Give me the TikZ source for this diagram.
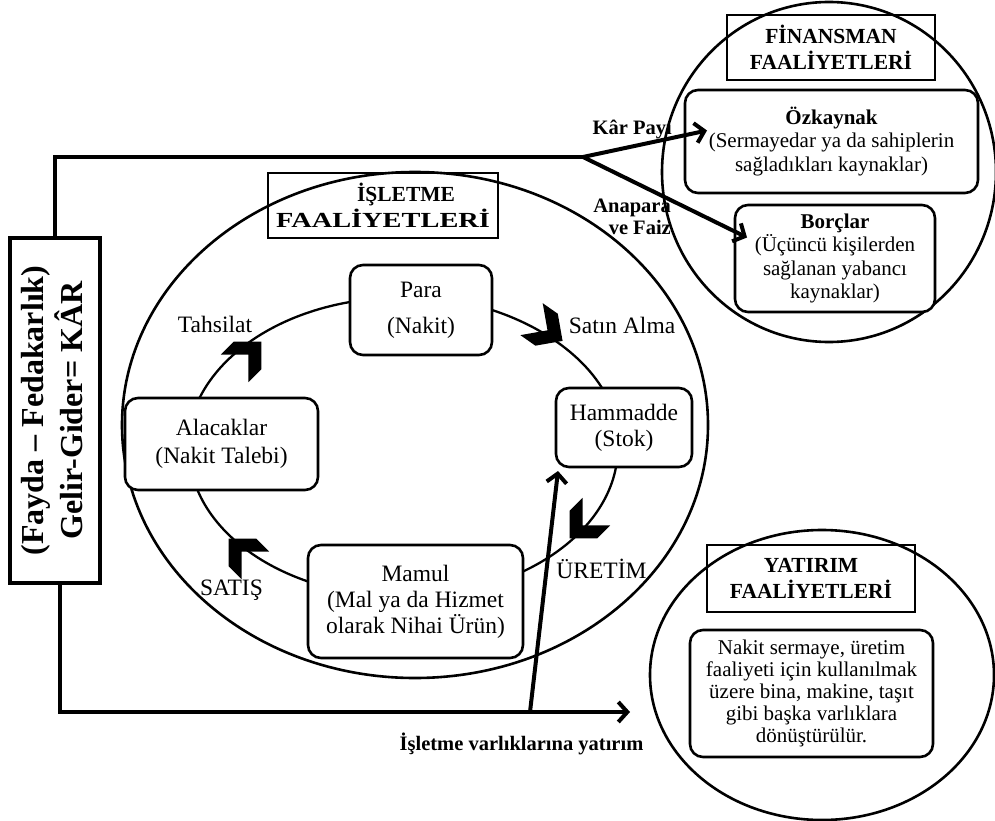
\documentclass[tikz,border=0pt]{standalone}
\usepackage{fontspec}
\setmainfont{Liberation Serif}
\usetikzlibrary{arrows.meta}

\newcommand\cycfont{\fontsize{23.5}{26}\selectfont}
\newcommand\sidefont{\fontsize{21}{23.5}\selectfont}
\newcommand\invfont{\fontsize{21}{21.8}\selectfont}
\newcommand\titlefont{\fontsize{21.5}{26.5}\selectfont\bfseries}
\newcommand\lblfont{\fontsize{20.5}{24}\selectfont\bfseries}
\newcommand\karfont{\fontsize{32}{38}\selectfont\bfseries}

\tikzset{
  chev/.pic={\fill (19,0) -- (-0.5,19.5) -- (-18.9,19.5) -- (0.6,0) -- (-18.9,-19.5) -- (-0.5,-19.5) -- cycle;}
}

\begin{document}
\begin{tikzpicture}[x=1pt,y=-1pt,
  rbox/.style={draw,line width=2.6pt,rounded corners=13pt,fill=white,inner sep=0pt,outer sep=0pt,align=center},
  cyc/.style={line width=2.3pt},
  tbox/.style={draw,line width=1.2pt,inner sep=0pt,outer sep=0pt,align=center,font=\titlefont},
  flow/.style={line width=4pt,-{Straight Barb[length=9pt,width=20pt]}},
  big/.style={line width=2.6pt},
  lbl/.style={inner sep=0pt,anchor=base},
]
\useasboundingbox (0,0) rectangle (995,821);

% the three activity areas
\draw[big] (415,425) ellipse [x radius=293, y radius=253];
\draw[big] (829,172) ellipse [x radius=167, y radius=170];
\draw[big] (822,675) ellipse [x radius=172, y radius=145];

% area titles
\node[tbox, minimum width=230pt, minimum height=65pt] (istitle) at (383,205.5)
  {\hspace*{46pt}İŞLETME\\\scalebox{1.32}[1]{FAALİYETLERİ}};
\node[tbox, minimum width=208pt, minimum height=65pt] (fintitle) at (831,47.5) {FİNANSMAN\\FAALİYETLERİ};
\node[tbox, minimum width=208pt, minimum height=67pt] (yattitle) at (811,578.5) {YATIRIM\\FAALİYETLERİ};

% financing sources
\node[rbox, font=\sidefont, minimum width=293pt, minimum height=103pt] (ozk) at (831.5,141.5)
  {\textbf{Özkaynak}\\(Sermayedar ya da sahiplerin\\sağladıkları kaynaklar)};
\node[rbox, font=\sidefont, minimum width=200pt, minimum height=107pt] (bor) at (835,258.5)
  {\textbf{Borçlar}\\(Üçüncü kişilerden\\sağlanan yabancı\\kaynaklar)};

% investment description
\node[rbox, font=\invfont, minimum width=243pt, minimum height=127pt] (yat) at (811.5,693.5)
  {Nakit sermaye, üretim\\faaliyeti için kullanılmak\\üzere bina, makine, taşıt\\gibi başka varlıklara\\dönüştürülür.};

% operating cycle
\node[rbox, font=\cycfont, minimum width=142pt, minimum height=90pt] (para) at (421,310) {Para\\[10pt](Nakit)};
\node[rbox, font=\cycfont, minimum width=136pt, minimum height=79pt] (ham) at (624,427.5) {Hammadde\\(Stok)};
\node[rbox, font=\cycfont, minimum width=215pt, minimum height=113pt] (mam) at (415.5,601.5) {Mamul\\(Mal ya da Hizmet\\olarak Nihai Ürün)};
\node[rbox, font=\cycfont, minimum width=193pt, minimum height=92pt] (al) at (221.5,444) {Alacaklar\\[2pt](Nakit Talebi)};

\draw[cyc] (para.east) .. controls (542.3,326.4) and (581.7,355.2) .. ([xshift=-22pt]ham.north);
\draw[cyc] ([xshift=-8pt]ham.south) .. controls (608.2,509.2) and (574.2,547.4) .. ([yshift=30pt]mam.east);
\draw[cyc] ([yshift=20pt]mam.west) .. controls (254.2,563.1) and (214.0,529.7) .. ([xshift=-24pt]al.south);
\draw[cyc] ([xshift=-22pt]al.north) .. controls (223.4,350.3) and (279.9,314.1) .. ([yshift=8pt]para.west);

\pic[rotate=45] at (248,355) {chev};
\pic[rotate=-35] at (547,330) {chev};
\pic[rotate=-135] at (583,525) {chev};
\pic[rotate=135] at (242,552) {chev};

\node[lbl, font=\cycfont] (tah) at (215,332) {Tahsilat};
\node[lbl, font=\cycfont] (sat) at (622,333) {Satın Alma};
\node[lbl, font=\cycfont] (ure) at (601.5,578) {ÜRETİM};
\node[lbl, font=\cycfont] (sts) at (231.5,595) {SATIŞ};

% profit box on the left
\node[draw, line width=3.5pt, minimum width=90pt, minimum height=345pt, inner sep=0pt, outer sep=0pt, font=\karfont] (res) at (55,410.5)
  {\rotatebox{90}{\begin{tabular}{@{}c@{}}(Fayda – Fedakarlık)\\Gelir-Gider= KÂR\end{tabular}}};

% cash flows
\coordinate (fork) at (583,157);
\coordinate (yatin) at (630,712);
\coordinate (base) at (530,712);

\draw[line width=4pt] (res.north) |- (fork);
\draw[flow] (fork) -- ([shift={(22pt,11pt)}]ozk.west);
\draw[flow] (fork) -- ([shift={(12pt,21pt)}]bor.west);
\draw[flow] ([xshift=5pt]res.south) |- (yatin);
\draw[flow] (base) -- ([shift={(2pt,-4pt)}]ham.south west);

\node[lbl, font=\lblfont, anchor=base east] (kar) at (672,135) {Kâr Payı};
\node[lbl, font=\lblfont, anchor=base east] (ana) at (671,212) {Anapara};
\node[lbl, font=\lblfont, anchor=base east] (faiz) at (671,234) {ve Faiz};
\node[lbl, font=\lblfont] (yv) at (521.5,750) {İşletme varlıklarına yatırım};
\end{tikzpicture}
\end{document}
